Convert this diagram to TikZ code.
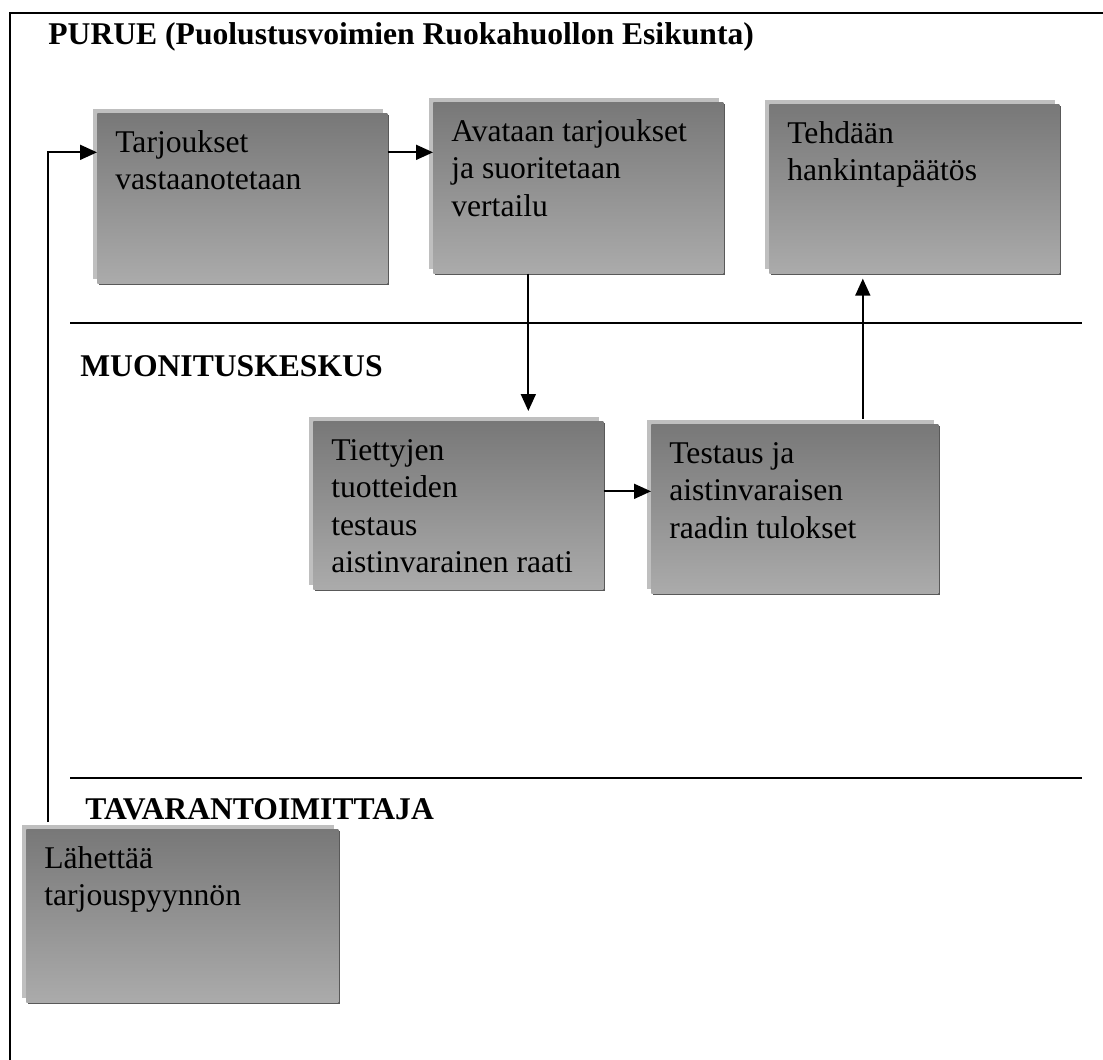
\documentclass[tikz,border=0pt]{standalone}
\usepackage{fontspec}
\setmainfont{Liberation Serif}
\usetikzlibrary{shadows,arrows.meta}
\tikzset{
    procbox/.style={anchor=north west, inner xsep=0.36cm, inner ysep=0pt,
        top color=black!53, bottom color=black!33,
        general shadow={fill=black!25, shadow xshift=-0.08cm, shadow yshift=0.08cm},
        general shadow={fill=black!65, shadow xshift=0.04cm, shadow yshift=-0.04cm},
        font=\fontsize{18pt}{21.3pt}\selectfont},
    lanetitle/.style={anchor=base west, inner sep=0pt,
        font=\fontsize{18pt}{21.3pt}\selectfont\bfseries},
    flowarrow/.style={line width=0.035cm, -{Triangle[length=0.34cm,width=0.3cm]}},
    laneline/.style={line width=0.035cm},
}
\newcommand{\boxtext}[3]{\parbox[t][#2][t]{#1}{\raggedright\rule{0pt}{0.78cm}#3}}

\begin{document}
\begin{tikzpicture}[x=0.02cm, y=-0.02cm]
\useasboundingbox (0,0) rectangle (1103,1060);
% frame and lanes
\draw[line width=0.045cm] (1103,13) -- (10,13) -- (10,1060);
\draw[laneline] (70,323) -- (1082,323);
\draw[laneline] (70,778) -- (1082,778);
\node[lanetitle] (purue) at (48,45) {PURUE (Puolustusvoimien Ruokahuollon Esikunta)};
\node[lanetitle] (muon) at (80,377) {MUONITUSKESKUS};
\node[lanetitle] (tava) at (85,820) {TAVARANTOIMITTAJA};

% boxes
\node[procbox] (tarj) at (97,113) {\boxtext{5.08cm}{3.4cm}{Tarjoukset\\vastaanotetaan}};
\node[procbox] (avat) at (433,102) {\boxtext{5.08cm}{3.42cm}{Avataan tarjoukset\\ja suoritetaan\\vertailu}};
\node[procbox] (tehd) at (769,104) {\boxtext{5.08cm}{3.38cm}{Tehdään\\hankintapäätös}};
\node[procbox] (tiet) at (313,421) {\boxtext{5.08cm}{3.36cm}{Tiettyjen\\tuotteiden\\testaus\\aistinvarainen raati}};
\node[procbox] (test) at (651,424) {\boxtext{5.02cm}{3.38cm}{Testaus ja\\aistinvaraisen\\raadin tulokset}};
\node[procbox] (lah) at (26,829) {\boxtext{5.52cm}{3.46cm}{Lähettää\\tarjouspyynnön}};

% connectors
\draw[flowarrow] ([shift={(0.44cm,0.14cm)}]lah.north west) |- (tarj.base west);
\draw[flowarrow] (tarj.base east) -- (tarj.base east -| avat.west);
\draw[flowarrow, shorten >=0.2cm] ([xshift=-1cm]avat.south) -- ([xshift=-1cm]avat.south |- tiet.north);
\draw[flowarrow] ([yshift=0.28cm]tiet.east) -- ([yshift=0.28cm]tiet.east -| test.west);
\draw[flowarrow, shorten <=0.1cm, shorten >=0.1cm] ([xshift=1.36cm]test.north) -- ([xshift=1.36cm]test.north |- tehd.south);
\end{tikzpicture}
\end{document}
